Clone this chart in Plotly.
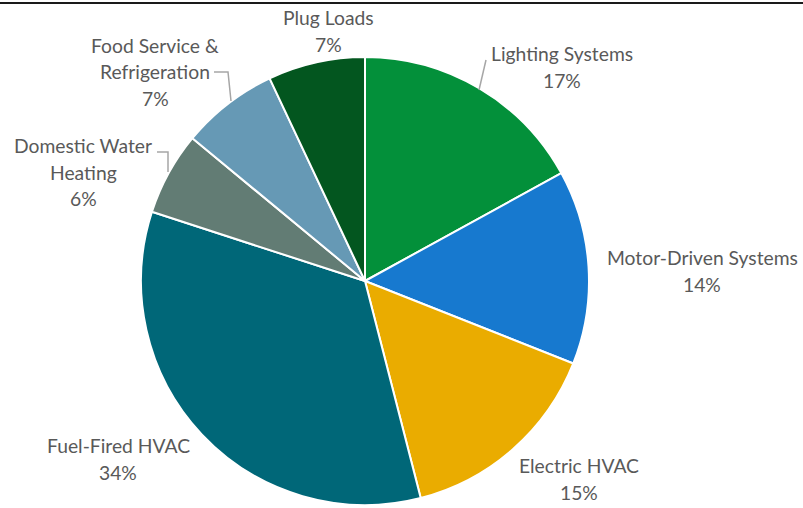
import plotly.graph_objects as go

W, H = 803, 508

categories = ["Lighting Systems", "Motor-Driven Systems", "Electric HVAC", "Fuel-Fired HVAC",
              "Domestic Water Heating", "Food Service & Refrigeration", "Plug Loads"]
values = [17, 14, 15, 34, 6, 7, 7]
colors = ["#03903A", "#1779CF", "#EAAC00", "#006778", "#627C74", "#6699B5", "#03561F"]

# label lines as in the reference, and pixel centre of each label block
label_lines = [["Lighting Systems"], ["Motor-Driven Systems"], ["Electric HVAC"], ["Fuel-Fired HVAC"],
               ["Domestic Water", "Heating"], ["Food Service &", "Refrigeration"], ["Plug Loads"]]
label_pos = [(562, 67), (702, 271), (579, 479), (118, 459), (83, 172), (155, 72), (328, 31)]
LINE = 26.5

fig = go.Figure(go.Pie(
    labels=categories, values=values, sort=False, direction="clockwise", rotation=0,
    marker=dict(colors=colors, line=dict(color="white", width=2)),
    textinfo="none", hoverinfo="label+percent", showlegend=False,
    domain=dict(x=[141 / W, 589 / W], y=[1 - 505 / H, 1 - 57 / H]),
))

total = sum(values)
font = dict(family="Lato, 'Open Sans', sans-serif", size=19.3, color="#595959")
for lines, v, (px, py) in zip(label_lines, values, label_pos):
    allines = lines + [f"{round(100 * v / total)}%"]
    n = len(allines)
    for i, t in enumerate(allines):
        y = py + (i - (n - 1) / 2) * LINE
        fig.add_annotation(x=px / W, y=1 - y / H, xref="paper", yref="paper",
                           text=t, showarrow=False, font=font,
                           xanchor="center", yanchor="middle")

def leader(points):
    path = "M " + " L ".join(f"{x / W},{1 - y / H}" for x, y in points)
    fig.add_shape(type="path", path=path, xref="paper", yref="paper",
                  line=dict(color="#A6A6A6", width=1.5))

leader([(214, 72), (228, 72), (231, 101)])
leader([(157, 152), (168, 152), (168, 172)])
leader([(486, 60), (479, 90)])

# top frame line
fig.add_shape(type="line", x0=0, x1=1, y0=1 - 3 / H, y1=1 - 3 / H, xref="paper", yref="paper",
              line=dict(color="#1a1a1a", width=2))

fig.update_layout(width=W, height=H, margin=dict(l=0, r=0, t=0, b=0),
                  paper_bgcolor="white", plot_bgcolor="white")
fig.write_html("out.html", config={"displayModeBar": False},
               post_script="document.body.style.margin='0px';")
